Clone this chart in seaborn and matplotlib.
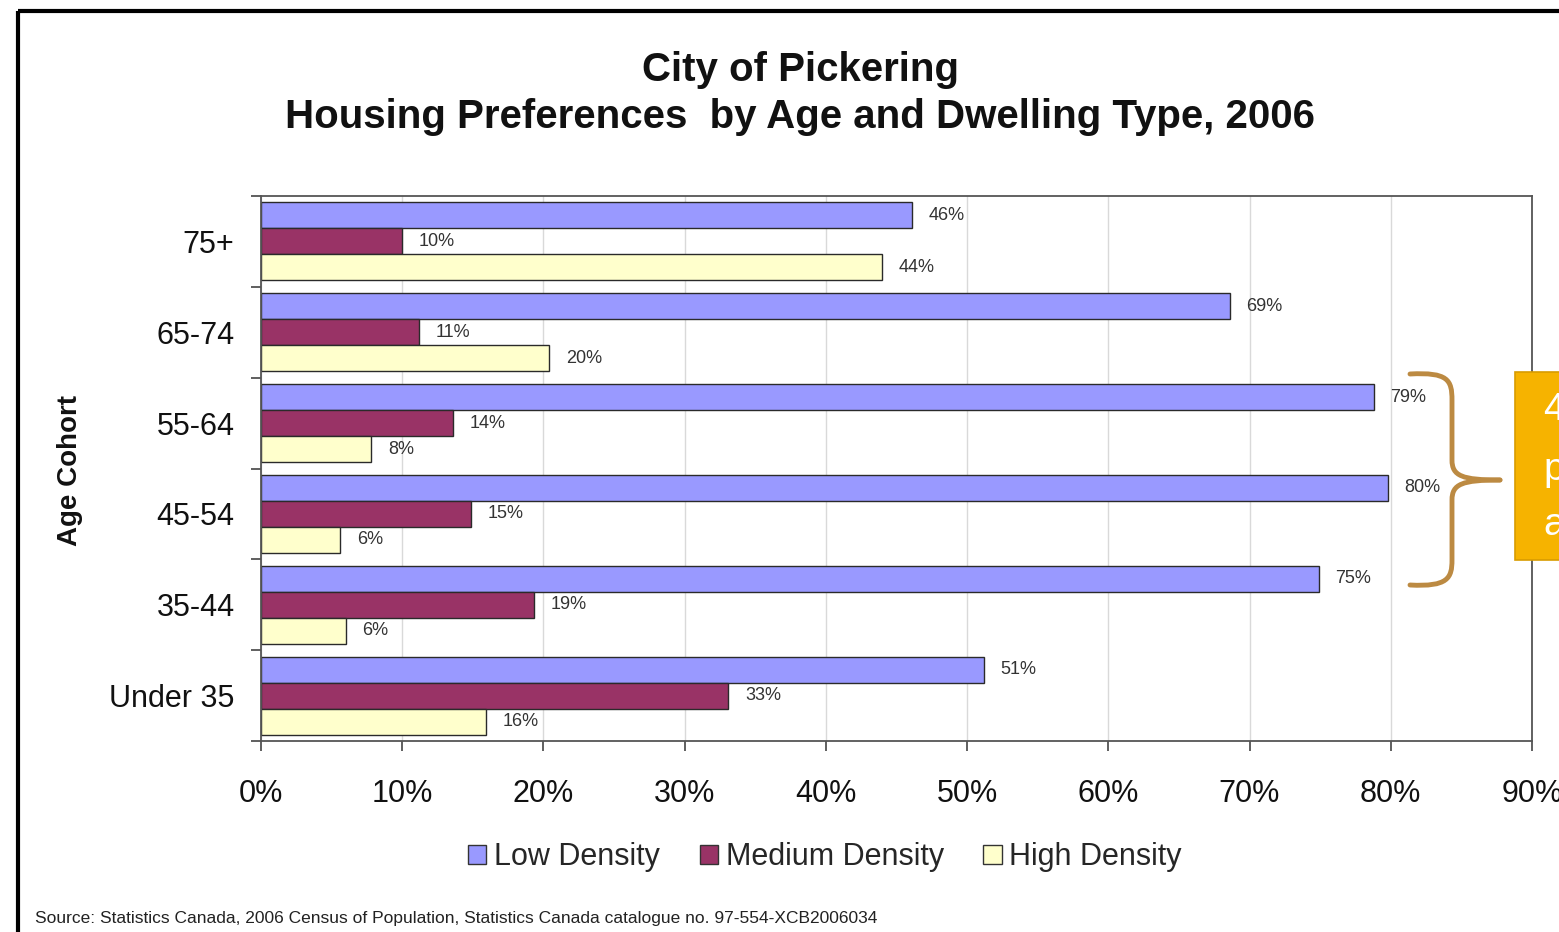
import matplotlib
matplotlib.use("Agg")
import matplotlib.pyplot as plt
import seaborn as sns
import pandas as pd
from matplotlib.patches import Patch, Rectangle, PathPatch
from matplotlib.path import Path
from matplotlib.ticker import FixedLocator, FuncFormatter

# ---- data ----
categories = ["75+", "65-74", "55-64", "45-54", "35-44", "Under 35"]
series = ["Low Density", "Medium Density", "High Density"]
low_density = [46.1, 68.6, 78.8, 79.8, 74.9, 51.2]
medium_density = [10.0, 11.2, 13.6, 14.9, 19.3, 33.1]
high_density = [44.0, 20.4, 7.8, 5.6, 6.0, 15.9]
x_ticks = [0, 10, 20, 30, 40, 50, 60, 70, 80, 90]
colors = ["#9999FF", "#993366", "#FFFFCC"]

rows = []
for s, vals in zip(series, [low_density, medium_density, high_density]):
    for c, v in zip(categories, vals):
        rows.append({"Age Cohort": c, "Series": s, "Value": v})
df = pd.DataFrame(rows)

sns.set_theme(style="white")
plt.rcParams["font.family"] = ["Liberation Sans", "DejaVu Sans"]

W, H = 1559, 932
fig = plt.figure(figsize=(W / 100, H / 100), dpi=100)
fig.patch.set_facecolor("white")
ax = fig.add_axes([261 / W, 1 - 741 / H, (1532 - 261) / W, (741 - 196) / H])

sns.barplot(data=df, y="Age Cohort", x="Value", hue="Series", order=categories,
            hue_order=series, palette=colors, orient="h", width=0.86, gap=0,
            edgecolor="#2a2a2a", linewidth=1.0, saturation=1, legend=False, ax=ax)

ax.set_xlim(0, 90)
ax.set_ylim(len(categories) - 0.5, -0.5)
ax.xaxis.set_major_locator(FixedLocator(x_ticks))
ax.xaxis.set_major_formatter(FuncFormatter(lambda v, p: f"{int(v)}%"))
ax.grid(axis="x", color="#D9D9D9", linewidth=1.0)
ax.set_axisbelow(True)
ax.set_xlabel("")
ax.set_ylabel("")

for sp in ax.spines.values():
    sp.set_color("#555555")
    sp.set_linewidth(1.3)

ax.tick_params(axis="x", direction="out", length=7, width=1.2, color="#444444",
               labelsize=22, pad=20, labelcolor="#111111", bottom=True)
ax.tick_params(axis="y", which="major", length=0, labelsize=22, pad=19,
               labelcolor="#111111")
ax.yaxis.set_minor_locator(FixedLocator([i - 0.5 for i in range(len(categories) + 1)]))
ax.tick_params(axis="y", which="minor", direction="out", length=7, width=1.2,
               color="#444444", left=True)

for cont in ax.containers:
    labels = [f"{round(b.get_width())}%" for b in cont]
    ax.bar_label(cont, labels=labels, padding=12, fontsize=13, color="#333333")

# ---- titles & texts ----
fig.text(800 / W, 1 - 70 / H, "City of Pickering", ha="center", va="center",
         fontsize=29, fontweight="bold", color="#111111")
fig.text(800 / W, 1 - 117 / H, "Housing Preferences  by Age and Dwelling Type, 2006",
         ha="center", va="center", fontsize=29, fontweight="bold", color="#111111")
fig.text(70 / W, 1 - 470 / H, "Age Cohort", rotation=90, ha="center", va="center",
         fontsize=20, fontweight="bold", color="#111111")
fig.text(35 / W, 1 - 918 / H,
         "Source: Statistics Canada, 2006 Census of Population, Statistics Canada catalogue no. 97-554-XCB2006034",
         ha="left", va="center", fontsize=12.5, color="#222222")

handles = [Patch(facecolor=c, edgecolor="#333333", linewidth=1.0) for c in colors]
fig.legend(handles, series, loc="center", bbox_to_anchor=(825 / W, 1 - 857 / H),
           ncol=3, frameon=False, fontsize=22, handlelength=0.6, handleheight=0.6,
           handletextpad=0.25, columnspacing=1.3)

# ---- overlay: border, brace, callout box ----
ov = fig.add_axes([0, 0, 1, 1], facecolor="none")
ov.set_xlim(0, W)
ov.set_ylim(H, 0)
ov.axis("off")
ov.add_patch(Rectangle((18, 11), 1700, 1100, fill=False, edgecolor="black",
                       linewidth=3.0))
brace_col = "#BC8A42"
top = Path([(1410, 374), (1448, 372), (1452, 380), (1452, 400), (1452, 460),
            (1452, 476), (1462, 480), (1500, 480)],
           [Path.MOVETO, Path.CURVE4, Path.CURVE4, Path.CURVE4, Path.LINETO,
            Path.CURVE4, Path.CURVE4, Path.CURVE4])
bot = Path([(1410, 585), (1448, 587), (1452, 578), (1452, 560), (1452, 500),
            (1452, 484), (1462, 480), (1500, 480)],
           [Path.MOVETO, Path.CURVE4, Path.CURVE4, Path.CURVE4, Path.LINETO,
            Path.CURVE4, Path.CURVE4, Path.CURVE4])
for p in (top, bot):
    ov.add_patch(PathPatch(p, fill=False, edgecolor=brace_col, linewidth=3.5,
                           capstyle="round"))
ov.add_patch(Rectangle((1515, 372), 200, 188, facecolor="#F6B300",
                       edgecolor="#D89C00", linewidth=1.2))
for y, t in [(410, "45%"), (470, "prefer"), (525, "are")]:
    ov.text(1543, y, t, color="white", fontsize=28, ha="left", va="center")

fig.savefig("out.png", dpi=100)
